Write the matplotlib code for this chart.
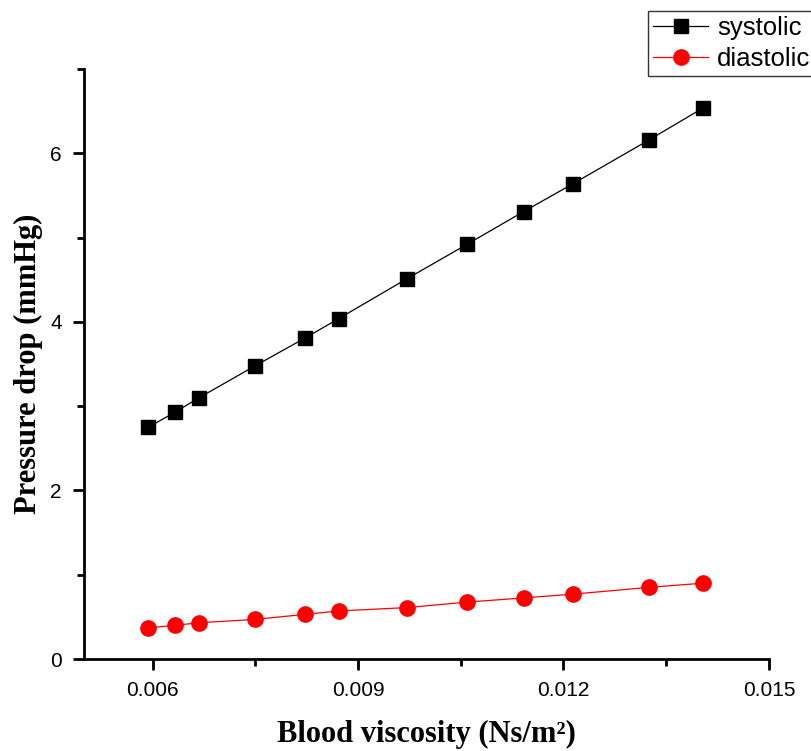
import numpy as np
import matplotlib
matplotlib.use('Agg')
import matplotlib.pyplot as plt
from matplotlib.ticker import MultipleLocator

# values
viscosity = [0.00594, 0.00633, 0.00668, 0.00750, 0.00823, 0.00872,
             0.00971, 0.01059, 0.01142, 0.01214, 0.01325, 0.01404]
systolic  = [2.75, 2.93, 3.10, 3.48, 3.81, 4.04,
             4.51, 4.92, 5.31, 5.64, 6.16, 6.54]
diastolic = [0.37, 0.40, 0.43, 0.47, 0.53, 0.57,
             0.61, 0.675, 0.725, 0.77, 0.85, 0.90]

fig = plt.figure(figsize=(8.11, 7.51), dpi=100)
ax = fig.add_axes([0.1036, 0.1225, 0.8446, 0.7855])

ax.plot(viscosity, systolic, color='black', lw=0.9, marker='s', ms=9.5,
        mfc='black', mec='black', label='systolic')
ax.plot(viscosity, diastolic, color='red', lw=0.9, marker='o', ms=11,
        mfc='red', mec='red', label='diastolic')

ax.set_xlim(0.005, 0.015)
ax.set_ylim(0, 7)
ax.xaxis.set_minor_locator(MultipleLocator(0.0015))
ax.yaxis.set_major_locator(MultipleLocator(2))
ax.yaxis.set_minor_locator(MultipleLocator(1))
ax.set_xticks([0.006, 0.009, 0.012, 0.015])
ax.set_xticklabels(['0.006', '0.009', '0.012', '0.015'])

for s in ['top', 'right']:
    ax.spines[s].set_visible(False)
for s in ['left', 'bottom']:
    ax.spines[s].set_linewidth(2)

ax.tick_params(which='major', direction='out', length=8, width=2,
               labelsize=15, pad=8)
ax.tick_params(which='minor', direction='out', length=5, width=2)
for lab in ax.get_xticklabels() + ax.get_yticklabels():
    lab.set_family('Liberation Sans')

ax.set_xlabel('Blood viscosity (Ns/m²)', family='Liberation Serif',
              fontweight='bold', fontsize=22, labelpad=14)
ax.set_ylabel('Pressure drop (mmHg)', family='Liberation Serif',
              fontweight='bold', fontsize=22, labelpad=5)

leg = fig.legend(loc='upper left', bbox_to_anchor=(648 / 811, 1 - 11 / 751),
                 prop={'family': 'Liberation Sans', 'size': 18.5},
                 frameon=True, fancybox=False, edgecolor='black',
                 borderpad=0.2, labelspacing=0.25, handlelength=2.15,
                 handletextpad=0.35, borderaxespad=0)
leg.get_frame().set_linewidth(1.0)

fig.savefig('out.png', dpi=100)
